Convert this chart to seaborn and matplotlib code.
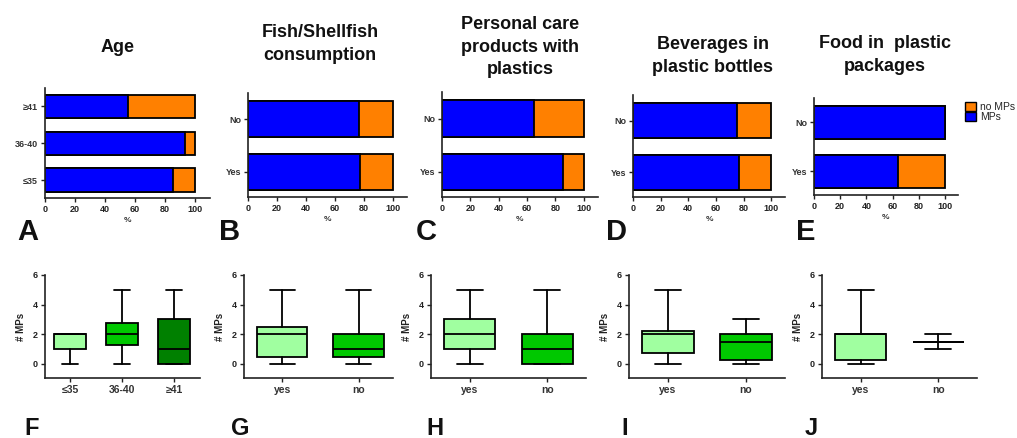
import matplotlib
matplotlib.use("Agg")
import matplotlib.pyplot as plt
import seaborn as sns
import pandas as pd
from matplotlib.patches import Patch

# ---------------- data ----------------
titles = ["Age", "Fish/Shellfish\nconsumption", "Personal care\nproducts with\nplastics",
          "Beverages in\nplastic bottles", "Food in  plastic\npackages"]
top_letters = ["A", "B", "C", "D", "E"]
bot_letters = ["F", "G", "H", "I", "J"]

age_cats = ["≥41", "36-40", "≤35"]
yesno_cats = ["No", "Yes"]
mps_age = [55, 93, 85]       # % with MPs
mps_fish = [77, 77.5]
mps_care = [65, 85]
mps_bev = [75, 77]
mps_food = [100, 64]
total_pct = 100

legend_labels = ["no MPs", "MPs"]

box_age_labels = ["≤35", "36-40", "≥41"]
box_yn_labels = ["yes", "no"]
# (min, q1, median, q3, max) of # MPs
box_age = [(0, 1, 2, 2, 2), (0, 1.25, 2, 2.75, 5), (0, 0, 1, 3, 5)]
box_fish = [(0, 0.5, 2, 2.5, 5), (0, 0.5, 1, 2, 5)]
box_care = [(0, 1, 2, 3, 5), (0, 0, 1, 2, 5)]
box_bev = [(0, 0.75, 2, 2.25, 5), (0, 0.25, 1.5, 2, 3)]
box_food = [(0, 0.25, 2, 2, 5), (1, 1.5, 1.5, 1.5, 2)]

# ---------------- style ----------------
BLUE = "#0000FF"
ORANGE = "#FF8000"
LIGHT_G = "#A0FFA0"
MID_G = "#00C800"
DARK_G = "#008000"

W, H = 1017, 438
sns.set_style("ticks")
plt.rcParams['font.family'] = ['Liberation Sans', 'DejaVu Sans']

fig = plt.figure(figsize=(W / 100, H / 100), dpi=100)


def add_ax(l, t, r, b):
    return fig.add_axes([l / W, 1 - b / H, (r - l) / W, (b - t) / H])


def style_ax(ax):
    for s in ["top", "right"]:
        ax.spines[s].set_visible(False)
    for s in ["left", "bottom"]:
        ax.spines[s].set_linewidth(1.2)
        ax.spines[s].set_color("#222222")
    ax.tick_params(length=3, width=1.0, color="#222222", pad=2)


top_boxes = [(45, 88, 210, 198), (248, 93, 407, 197), (442, 92, 598, 197),
             (633, 95, 785, 197), (814, 98, 958, 195)]
top_data = [(age_cats, mps_age), (yesno_cats, mps_fish), (yesno_cats, mps_care),
            (yesno_cats, mps_bev), (yesno_cats, mps_food)]
title_pos = [(118, 47), (320, 44), (520, 47), (713, 56), (885, 55)]
top_letter_pos = [(17, 240), (219, 240), (416, 240), (606, 240), (796, 240)]

for i, (box, (cats, mps)) in enumerate(zip(top_boxes, top_data)):
    ax = add_ax(*box)
    df = pd.DataFrame({"cat": cats, "MPs": mps, "total": [total_pct] * len(cats)})
    w = 0.64 if len(cats) == 3 else 0.68
    sns.barplot(data=df, x="total", y="cat", order=cats, color=ORANGE, saturation=1,
                edgecolor="black", linewidth=1.3, width=w, orient="h", ax=ax)
    sns.barplot(data=df, x="MPs", y="cat", order=cats, color=BLUE, saturation=1,
                edgecolor="black", linewidth=1.3, width=w, orient="h", ax=ax)
    style_ax(ax)
    ax.set_xlim(0, 110)
    ax.set_xticks([0, 20, 40, 60, 80, 100])
    ax.set_ylim(len(cats) - 1 + 0.48, -0.5)
    ax.set_xlabel("%", fontsize=6, fontweight="bold", color="#333333", labelpad=2)
    ax.set_ylabel("")
    for lab in ax.get_xticklabels():
        lab.set_fontsize(6.5); lab.set_fontweight("bold"); lab.set_color("#222222")
    for lab in ax.get_yticklabels():
        lab.set_fontsize(6.5); lab.set_fontweight("bold"); lab.set_color("#333333")
    fig.text(title_pos[i][0] / W, 1 - title_pos[i][1] / H, titles[i], fontsize=13,
             fontweight="bold", ha="center", va="center", linespacing=1.45, color="#111111")
    fig.text(top_letter_pos[i][0] / W, 1 - top_letter_pos[i][1] / H, top_letters[i],
             fontsize=21, fontweight="bold", ha="left", va="baseline", color="#111111")
    if i == 4:
        handles = [Patch(facecolor=ORANGE, edgecolor="black", linewidth=1.0, label=legend_labels[0]),
                   Patch(facecolor=BLUE, edgecolor="black", linewidth=1.0, label=legend_labels[1])]
        fig.legend(handles=handles, loc="upper left", bbox_to_anchor=(965 / W, 1 - 102 / H),
                   frameon=False, fontsize=7.5, handlelength=1.1, handleheight=0.9,
                   labelspacing=0.0, handletextpad=0.35, borderpad=0, borderaxespad=0)

bot_boxes = [(45, 275, 200, 378), (244, 275, 393, 378), (431, 275, 586, 378),
             (629, 275, 785, 378), (822, 275, 977, 378)]
bot_data = [(box_age_labels, box_age, [LIGHT_G, MID_G, DARK_G]),
            (box_yn_labels, box_fish, [LIGHT_G, MID_G]),
            (box_yn_labels, box_care, [LIGHT_G, MID_G]),
            (box_yn_labels, box_bev, [LIGHT_G, MID_G]),
            (box_yn_labels, box_food, [LIGHT_G, MID_G])]
bot_letter_pos = [(24, 417), (231, 417), (426, 417), (621, 417), (805, 417)]

for i, (box, (labels, st, cols)) in enumerate(zip(bot_boxes, bot_data)):
    ax = add_ax(*box)
    stats = [dict(whislo=s[0], q1=s[1], med=s[2], q3=s[3], whishi=s[4], label=l)
             for s, l in zip(st, labels)]
    lw = 1.3
    bp = ax.bxp(stats, positions=list(range(len(stats))), widths=0.66 if len(stats) == 2 else 0.63,
                patch_artist=True, showfliers=False,
                boxprops=dict(edgecolor="black", linewidth=lw),
                medianprops=dict(color="black", linewidth=lw),
                whiskerprops=dict(color="black", linewidth=lw),
                capprops=dict(color="black", linewidth=lw))
    for patch, c in zip(bp["boxes"], cols):
        patch.set_facecolor(c)
    style_ax(ax)
    ax.set_ylim(-0.95, 6)
    ax.set_yticks([0, 2, 4, 6])
    if len(stats) == 3:
        ax.set_xlim(-0.48, 2.5)
    else:
        ax.set_xlim(-0.5, 1.45 if i == 1 else 1.5)
    ax.set_ylabel("# MPs", fontsize=7, fontweight="bold", color="#222222", labelpad=5)
    for lab in ax.get_xticklabels():
        lab.set_fontsize(7.5); lab.set_fontweight("bold"); lab.set_color("#333333")
    for lab in ax.get_yticklabels():
        lab.set_fontsize(6.5); lab.set_fontweight("bold"); lab.set_color("#222222")
    fig.text(bot_letter_pos[i][0] / W, 1 - bot_letter_pos[i][1] / H, bot_letters[i],
             fontsize=17, fontweight="bold", ha="left", va="top", color="#111111")

fig.savefig("out.png", dpi=100, facecolor="white")
